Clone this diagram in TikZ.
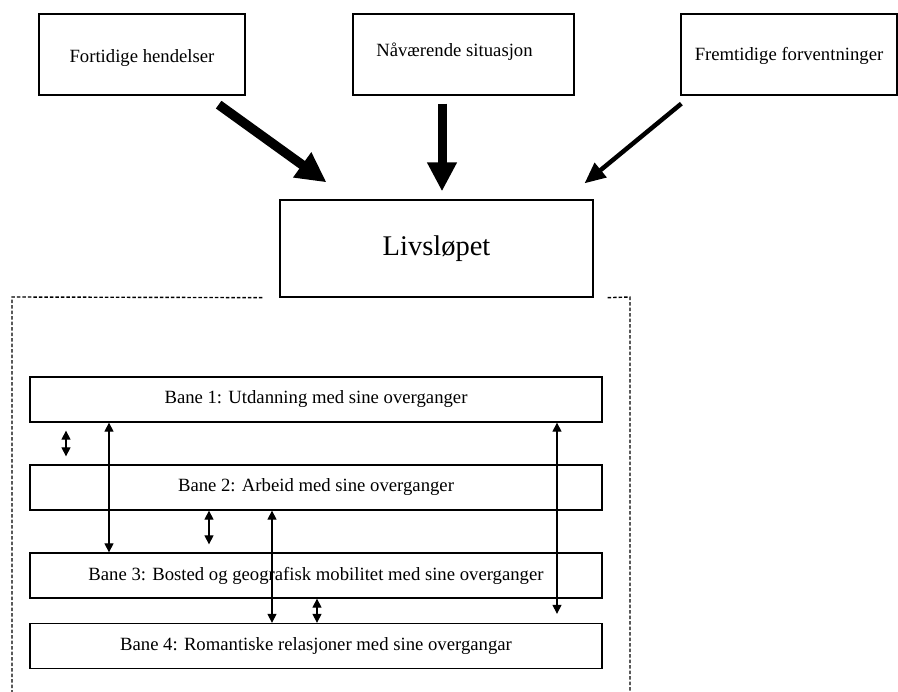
\documentclass[tikz,border=0pt]{standalone}
\usepackage{fontspec}
\setmainfont{Liberation Serif}
\usetikzlibrary{arrows.meta}

\begin{document}
\begin{tikzpicture}[
    x=1pt,
    y=-1pt,
    kilde/.style={
        draw,
        line width=1.3pt,
        minimum height=81pt,
        inner sep=0pt,
        text depth=0pt,
        font=\fontsize{18.7}{22}\selectfont
    },
    livslop/.style={
        draw,
        line width=1.3pt,
        minimum width=313pt,
        minimum height=97pt,
        inner sep=0pt,
        font=\fontsize{28.5}{32}\selectfont
    },
    bane/.style={
        draw,
        fill=white,
        line width=1.3pt,
        minimum width=572pt,
        minimum height=45pt,
        inner sep=0pt,
        font=\fontsize{18.7}{22}\selectfont
    },
    sterk pil/.style={
        -{Triangle[length=30pt,width=29pt]},
        line width=9.5pt
    },
    middels pil/.style={
        -{Triangle[length=29pt,width=28pt]},
        line width=9pt
    },
    svak pil/.style={
        -{Triangle[length=21pt,width=18pt]},
        line width=4.5pt
    },
    samspill/.style={
        {Triangle[length=9pt,width=9pt]}-{Triangle[length=9pt,width=9pt]},
        line width=1.2pt
    },
    ramme/.style={
        dash pattern=on 3.5pt off 2pt,
        line width=1.4pt
    }
]

\useasboundingbox (0,0) rectangle (898,692);

%% --- Tid: fortid, naatid, framtid ---
\node[kilde, minimum width=206pt, text height=17pt] (fort) at (142,54.5)   {Fortidige hendelser};
\node[kilde, minimum width=221pt, text height=5pt]  (naav) at (463.5,54.5) {Nåværende situasjon\hspace*{18pt}};
\node[kilde, minimum width=216pt, text height=12pt] (frem) at (789,54.5)   {Fremtidige forventninger};

%% --- Livsløpet ---
\node[livslop] (livs) at (436.5,248.5) {Livsløpet};

%% --- Piler inn mot livsløpet ---
\draw[sterk pil]   ([xshift=-27pt,yshift=-9pt]fort.south east) -- ([xshift=-110pt,yshift=17pt]livs.north);
\draw[middels pil] ([xshift=-21.5pt,yshift=-8pt]naav.south)    -- ([xshift=5.5pt,yshift=8pt]livs.north);
\draw[svak pil]    ([xshift=1pt,yshift=-8pt]frem.south west)   -- ([xshift=148pt,yshift=16pt]livs.north);

%% --- Stiplet ramme rundt banene ---
\draw[ramme] ([xshift=-17pt]livs.south west) -- (12,297) -- (12,692);
\draw[ramme] ([xshift=14pt]livs.south east) -- (630,297) -- (630,692);

%% --- Banene ---
\node[bane] (B1) at (316,399.5) {Bane 1: Utdanning med sine overganger};
\node[bane] (B2) at (316,487.5) {Bane 2: Arbeid med sine overganger};
\node[bane] (B3) at (316,575.5) {Bane 3: Bosted og geografisk mobilitet med sine overganger};
\node[bane] (B4) at (316,646)   {Bane 4: Romantiske relasjoner med sine overgangar};

%% --- Samspill mellom banene ---
\draw[samspill] ([xshift=-250pt,yshift=-8pt]B1.south) -- ([xshift=-250pt,yshift=8pt]B2.north);
\draw[samspill] ([xshift=-207pt]B1.south)             -- ([xshift=-207pt]B3.north);
\draw[samspill] ([xshift=-107pt]B2.south)             -- ([xshift=-107pt,yshift=8pt]B3.north);
\draw[samspill] ([xshift=-44pt]B2.south)              -- ([xshift=-44pt]B4.north);
\draw[samspill] ([xshift=1pt]B3.south)                -- ([xshift=1pt]B4.north);
\draw[samspill] ([xshift=241pt]B1.south)              -- ([xshift=241pt,yshift=9pt]B4.north);

\end{tikzpicture}
\end{document}
